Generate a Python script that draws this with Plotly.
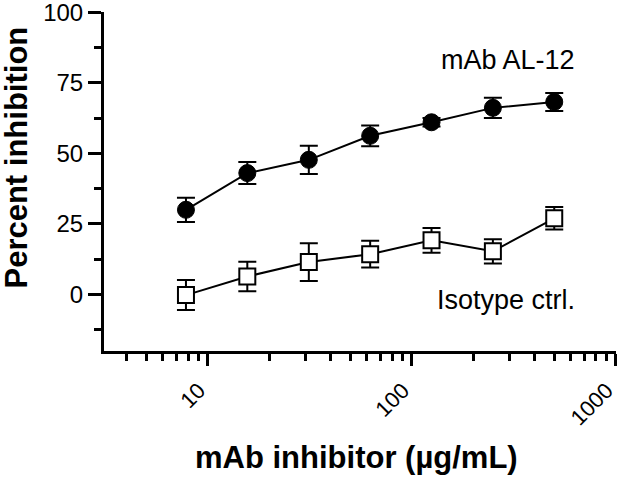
import plotly.graph_objects as go

conc = [7.8, 15.6, 31.25, 62.5, 125, 250, 500]
al12_mean = [30.0, 43.0, 47.7, 56.2, 61.0, 66.1, 68.2]
al12_err = [4.3, 3.9, 5.0, 3.7, 1.5, 3.6, 3.2]
iso_mean = [-0.2, 6.4, 11.5, 14.3, 19.2, 15.3, 27.0]
iso_err = [5.3, 5.2, 6.7, 4.7, 4.4, 4.3, 4.0]
xticks = [10, 100, 1000]
xticklabels = ["10", "100", "1000"]
yticks = [0, 25, 50, 75, 100]

FONT = "Liberation Sans, Arial, sans-serif"

fig = go.Figure()
fig.add_trace(go.Scatter(
    x=conc, y=al12_mean, mode="lines+markers",
    line=dict(color="black", width=2),
    marker=dict(symbol="circle", size=17, color="black", line=dict(color="black", width=1)),
    error_y=dict(type="data", array=al12_err, color="black", thickness=2, width=9),
    showlegend=False,
))
fig.add_trace(go.Scatter(
    x=conc, y=iso_mean, mode="lines+markers",
    line=dict(color="black", width=2),
    marker=dict(symbol="square", size=16, color="white", line=dict(color="black", width=2)),
    error_y=dict(type="data", array=iso_err, color="black", thickness=2, width=9),
    showlegend=False,
))

fig.update_xaxes(
    type="log", range=[0.49, 3.002], automargin=False,
    tickvals=xticks, ticktext=xticklabels, tickangle=-45,
    ticks="outside", ticklen=12, tickwidth=3, tickcolor="black",
    showline=True, linewidth=3, linecolor="black",
    showgrid=False, zeroline=False, ticklabeloverflow="allow",
    ticklabelshift=-9, ticklabelstandoff=3,
    tickfont=dict(family=FONT, size=22, color="black"),
    minor=dict(dtick="D1", ticks="outside", ticklen=7, tickwidth=3, tickcolor="black", showgrid=False),
)
fig.update_yaxes(
    range=[-20, 100.05], tickvals=yticks, automargin=False,
    ticks="outside", ticklen=13, tickwidth=3, tickcolor="black",
    showline=True, linewidth=3, linecolor="black",
    showgrid=False, zeroline=False, ticklabeloverflow="allow",
    tickfont=dict(family=FONT, size=24, color="black"),
    minor=dict(tick0=0, dtick=12.5, ticks="outside", ticklen=7, tickwidth=3, tickcolor="black", showgrid=False),
)

fig.add_annotation(text="<b>Percent inhibition</b>", xref="paper", yref="paper",
                   x=-0.171, y=0.572, xanchor="center", yanchor="middle", textangle=-90,
                   showarrow=False, font=dict(family=FONT, size=31, color="black"))
fig.add_annotation(text="<b>mAb inhibitor (µg/mL)</b>", xref="paper", yref="paper",
                   x=0.494, y=-0.315, xanchor="center", yanchor="middle",
                   showarrow=False, font=dict(family=FONT, size=31, color="black"))
fig.add_annotation(text="mAb AL-12", xref="paper", yref="paper",
                   x=0.789, y=0.858, xanchor="center", yanchor="middle",
                   showarrow=False, font=dict(family=FONT, size=27, color="black"))
fig.add_annotation(text="Isotype ctrl.", xref="paper", yref="paper",
                   x=0.785, y=0.15, xanchor="center", yanchor="middle",
                   showarrow=False, font=dict(family=FONT, size=27, color="black"))

fig.update_layout(
    width=618, height=479,
    margin=dict(l=104, r=2, t=12, b=128),
    paper_bgcolor="white", plot_bgcolor="white",
    font=dict(family=FONT, color="black"),
)
fig.write_html("out.html")
